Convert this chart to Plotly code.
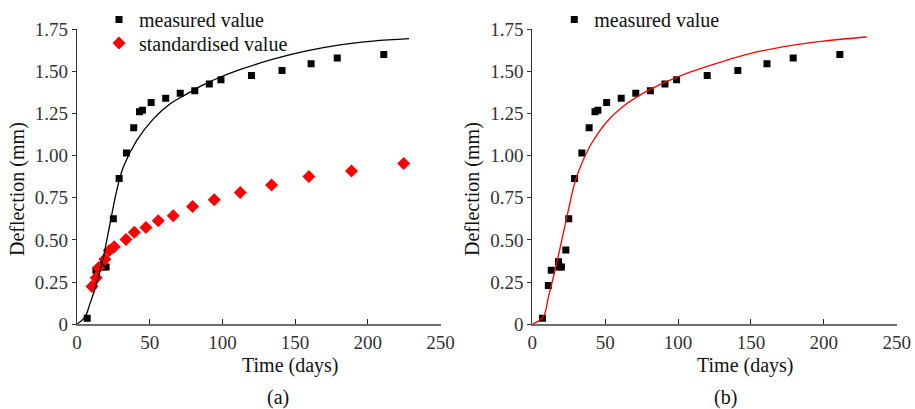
import plotly.graph_objects as go

# ---- data ----
measured_days = [7, 11, 13, 18, 18.5, 20, 23, 25, 29, 34, 39, 43, 45, 51, 61, 71, 81, 91, 99, 120, 141, 161, 179, 211]
measured_vals = [0.035, 0.23, 0.32, 0.37, 0.34, 0.34, 0.44, 0.625, 0.865, 1.015, 1.165, 1.26, 1.27, 1.315,
                 1.34, 1.37, 1.385, 1.425, 1.45, 1.475, 1.505, 1.545, 1.58, 1.60]

std_days = [10.3, 13.2, 14.8, 19.2, 22.2, 25.6, 33.7, 39.4, 47.4, 55.9, 66.2, 79.5, 94.4, 112.3, 133.8, 159.5, 188.8, 224.7]
std_vals = [0.224, 0.276, 0.335, 0.385, 0.438, 0.460, 0.503, 0.546, 0.574, 0.614, 0.643, 0.698, 0.739, 0.781,
            0.826, 0.876, 0.909, 0.954]

fit_a_days = [0, 5.5, 8.9, 13.5, 18.1, 22.7, 27.3, 31.8, 41, 52.4, 63.9, 75.4, 86.8, 98.3, 112, 134.9, 157.9, 180.8, 203.6, 228.4]
fit_a_vals = [0, 0.043, 0.122, 0.24, 0.398, 0.596, 0.793, 0.931, 1.089, 1.217, 1.306, 1.365, 1.42, 1.465, 1.51,
              1.572, 1.621, 1.657, 1.68, 1.694]

fit_b_days = [0, 7.5, 11, 15.6, 20.2, 24.7, 29.3, 35, 40.8, 52.1, 63.6, 75, 86.5, 97.9, 108.1, 131, 154, 176.9, 199.7, 229.4]
fit_b_vals = [0, 0.043, 0.16, 0.32, 0.497, 0.675, 0.845, 0.975, 1.075, 1.21, 1.30, 1.365, 1.417, 1.46, 1.495,
              1.56, 1.615, 1.653, 1.68, 1.704]

x_ticks = [0, 50, 100, 150, 200, 250]
y_ticks = [0, 0.25, 0.5, 0.75, 1.0, 1.25, 1.5, 1.75]
y_ticktext = ["0", "0.25", "0.50", "0.75", "1.00", "1.25", "1.50", "1.75"]

W, H = 915, 409
FONT = "Liberation Serif, Times New Roman, serif"

fig = go.Figure()

# panel (a)
fig.add_trace(go.Scatter(x=measured_days, y=measured_vals, mode="markers", name="measured value",
                         marker=dict(symbol="square", size=7, color="black"),
                         xaxis="x", yaxis="y", legend="legend"))
fig.add_trace(go.Scatter(x=std_days, y=std_vals, mode="markers", name="standardised value",
                         marker=dict(symbol="diamond", size=10, color="#ff0000"),
                         xaxis="x", yaxis="y", legend="legend2"))
fig.add_trace(go.Scatter(x=fit_a_days, y=fit_a_vals, mode="lines", line=dict(color="black", width=1.3, shape="spline"),
                         showlegend=False, xaxis="x", yaxis="y"))

# panel (b)
fig.add_trace(go.Scatter(x=measured_days, y=measured_vals, mode="markers", name="measured value",
                         marker=dict(symbol="square", size=7, color="black"),
                         xaxis="x2", yaxis="y2", legend="legend3"))
fig.add_trace(go.Scatter(x=fit_b_days, y=fit_b_vals, mode="lines", line=dict(color="#ff0000", width=1.3, shape="spline"),
                         showlegend=False, xaxis="x2", yaxis="y2"))

x0a, x1a = 77 / W, 440.5 / W
x0b, x1b = 532.3 / W, 896.7 / W
y0, y1 = (H - 324) / H, (H - 28.3) / H

xcommon = dict(range=[0, 250], tickvals=x_ticks, showgrid=False, zeroline=False, showline=True, automargin=False,
               linecolor="#6e6e6e", linewidth=1.6, ticks="inside", ticklen=5, tickcolor="#222", tickwidth=1,
               tickfont=dict(family=FONT, size=19, color="#333"))
ycommon = dict(range=[0, 1.75], tickvals=y_ticks, ticktext=y_ticktext, showgrid=False, zeroline=False,
               showline=True, automargin=False, linecolor="#333", linewidth=1.2, ticks="outside", ticklen=4,
               tickcolor="#333", tickwidth=1, tickfont=dict(family=FONT, size=19, color="#333"))

legend_common = dict(bgcolor="rgba(0,0,0,0)", borderwidth=0, xanchor="left", yanchor="middle",
                     font=dict(family=FONT, size=20, color="#111"), tracegroupgap=0,
                     itemclick=False, itemdoubleclick=False)

fig.update_layout(
    width=W, height=H,
    margin=dict(l=0, r=0, t=0, b=0),
    paper_bgcolor="white", plot_bgcolor="white",
    font=dict(family=FONT, color="#111"),
    xaxis=dict(domain=[x0a, x1a], anchor="y", **xcommon),
    yaxis=dict(domain=[y0, y1], anchor="x", **ycommon),
    xaxis2=dict(domain=[x0b, x1b], anchor="y2", **xcommon),
    yaxis2=dict(domain=[y0, y1], anchor="x2", **ycommon),
    legend=dict(x=99 / W, y=1 - 19 / H, **legend_common),
    legend2=dict(x=99 / W, y=1 - 43 / H, **legend_common),
    legend3=dict(x=(99 + 455.3) / W, y=1 - 19 / H, **legend_common),
    showlegend=True,
)

ann_font = dict(family=FONT, size=20, color="#111")
annotations = [
    dict(text="Time (days)", x=289.5 / W, y=1 - 365 / H),
    dict(text="Time (days)", x=744.7 / W, y=1 - 365 / H),
    dict(text="(a)", x=278 / W, y=1 - 397 / H),
    dict(text="(b)", x=725 / W, y=1 - 397 / H),
    dict(text="Deflection (mm)", x=17 / W, y=1 - 188.5 / H, textangle=-90),
    dict(text="Deflection (mm)", x=472 / W, y=1 - 188.5 / H, textangle=-90),
]
for a in annotations:
    fig.add_annotation(xref="paper", yref="paper", showarrow=False, xanchor="center", yanchor="middle",
                       font=ann_font, **a)

fig.write_html("out.html",
               config={"displayModeBar": False},
               post_script="document.body.style.margin='0';document.body.style.padding='0';"
                           "document.body.style.overflow='hidden';")
